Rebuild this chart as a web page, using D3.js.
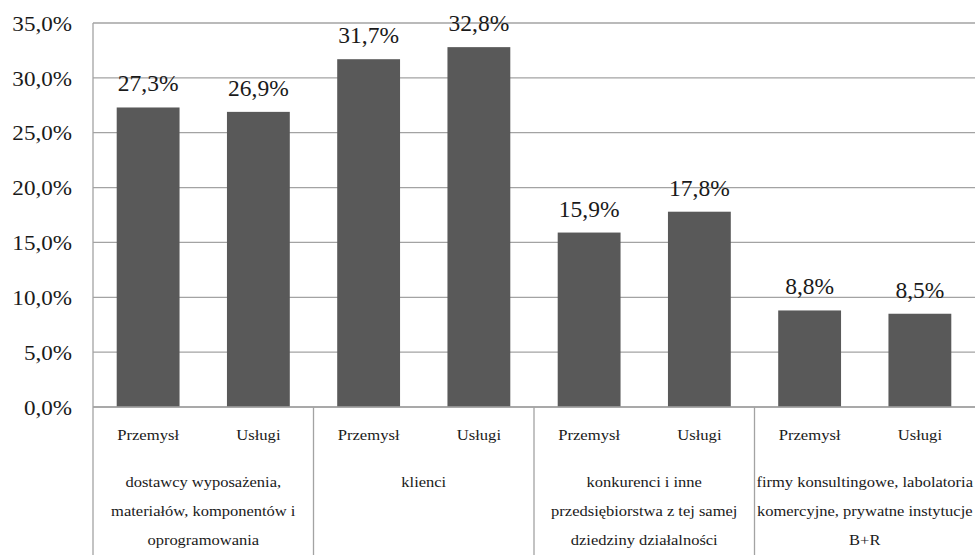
<!DOCTYPE html>
<html>
<head>
<meta charset="utf-8">
<script src="https://cdn.jsdelivr.net/npm/d3@7"></script>
<style>
  html, body { margin: 0; padding: 0; background: #fff; }
  svg { display: block; }
  svg text { font-family: "Liberation Serif", "Times New Roman", Tinos, serif; }
</style>
</head>
<body>
<svg id="chart" width="976" height="555"></svg>
<script>
// Source categories (multi-line labels) and sectors
const groups = [
  ["dostawcy wyposażenia,", "materiałów, komponentów i", "oprogramowania"],
  ["klienci"],
  ["konkurenci i inne", "przedsiębiorstwa z tej samej", "dziedziny działalności"],
  ["firmy konsultingowe, labolatoria", "komercyjne, prywatne instytucje", "B+R"]
];
const sectors = ["Przemysł", "Usługi"];
const przemysl = [27.3, 31.7, 15.9, 8.8];
const uslugi = [26.9, 32.8, 17.8, 8.5];
const yTicks = [0, 5, 10, 15, 20, 25, 30, 35];

const FONT = "Liberation Serif";
const INK = "#1a1a1a";
const LINE = "#a3a3a3";

function draw() {
  const svg = d3.select("#chart");
  const W = 976, H = 555;
  const m = { left: 93, right: 1, top: 23, axisY: 407 };

  const rows = [];
  groups.forEach((g, i) => {
    rows.push({ group: i, sector: sectors[0], value: przemysl[i] });
    rows.push({ group: i, sector: sectors[1], value: uslugi[i] });
  });

  const x0 = d3.scaleBand().domain(d3.range(groups.length))
    .range([m.left, W - m.right]).paddingInner(0).paddingOuter(0);
  const x1 = d3.scaleBand().domain(sectors)
    .range([0, x0.bandwidth()]).paddingInner(0.43).paddingOuter(0.215);
  const y = d3.scaleLinear().domain([0, 35]).range([m.axisY, m.top]);

  const fmt = v => d3.format(".1f")(v).replace(".", ",") + "%";

  // Place a text at (x, y) with a slight horizontal widening
  function place(sel, fx, fy, sx) {
    sel.attr("x", 0).attr("y", 0)
      .attr("font-family", FONT)
      .attr("transform", (d, i) => `translate(${fx(d, i)},${fy(d, i)}) scale(${sx},1)`);
  }

  // Horizontal gridlines
  svg.append("g")
    .selectAll("line").data(yTicks).join("line")
    .attr("x1", m.left).attr("x2", W - m.right)
    .attr("y1", d => y(d)).attr("y2", d => y(d))
    .attr("stroke", LINE).attr("stroke-width", 1.3);

  // Y axis tick labels
  const yAxis = d3.axisLeft(y).tickValues(yTicks).tickFormat(fmt).tickSize(0).tickPadding(21);
  const ya = svg.append("g").attr("transform", `translate(${m.left},0)`).call(yAxis)
    .attr("font-family", FONT).attr("font-size", 21);
  ya.select(".domain").remove();
  ya.selectAll(".tick text")
    .attr("fill", INK)
    .attr("font-family", FONT)
    .attr("x", null).attr("dy", "0.34em")
    .attr("transform", "translate(-21,0) scale(1.1,1)");

  // Bars
  svg.append("g").selectAll("rect").data(rows).join("rect")
    .attr("x", d => x0(d.group) + x1(d.sector))
    .attr("width", x1.bandwidth())
    .attr("y", d => y(d.value))
    .attr("height", d => y(0) - y(d.value))
    .attr("fill", "#595959");

  // Value labels
  svg.append("g").selectAll("text").data(rows).join("text")
    .attr("text-anchor", "middle")
    .attr("font-size", 23.5)
    .attr("fill", INK)
    .text(d => fmt(d.value))
    .call(place,
      d => x0(d.group) + x1(d.sector) + x1.bandwidth() / 2,
      d => y(d.value) - 16,
      1.0);

  // Axis lines
  svg.append("line")
    .attr("x1", m.left).attr("x2", m.left).attr("y1", m.top).attr("y2", H)
    .attr("stroke", LINE).attr("stroke-width", 1.3);
  svg.append("line")
    .attr("x1", m.left).attr("x2", W - m.right).attr("y1", m.axisY).attr("y2", m.axisY)
    .attr("stroke", LINE).attr("stroke-width", 1.3);

  // Group separators below the axis
  svg.append("g").selectAll("line").data(d3.range(1, groups.length)).join("line")
    .attr("x1", d => x0(d)).attr("x2", d => x0(d))
    .attr("y1", m.axisY).attr("y2", H)
    .attr("stroke", LINE).attr("stroke-width", 1.3);

  // Sector labels
  svg.append("g").selectAll("text").data(rows).join("text")
    .attr("text-anchor", "middle")
    .attr("font-size", 15)
    .attr("fill", INK)
    .text(d => d.sector)
    .call(place,
      d => x0(d.group) + x1(d.sector) + x1.bandwidth() / 2,
      () => 439.5,
      1.11);

  // Group labels (up to three lines)
  const lines = [];
  groups.forEach((g, i) => g.forEach((line, j) => lines.push({ i, j, line })));
  svg.append("g").selectAll("text").data(lines).join("text")
    .attr("text-anchor", "middle")
    .attr("font-size", 15)
    .attr("fill", INK)
    .text(d => d.line)
    .call(place,
      d => x0(d.i) + x0.bandwidth() / 2,
      d => 486.5 + d.j * 29,
      1.1);
}

// Make sure the serif face is ready before text is laid out
if (document.fonts && document.fonts.load) {
  document.fonts.load('16px "Liberation Serif"').then(draw, draw);
} else {
  draw();
}
</script>
</body>
</html>
